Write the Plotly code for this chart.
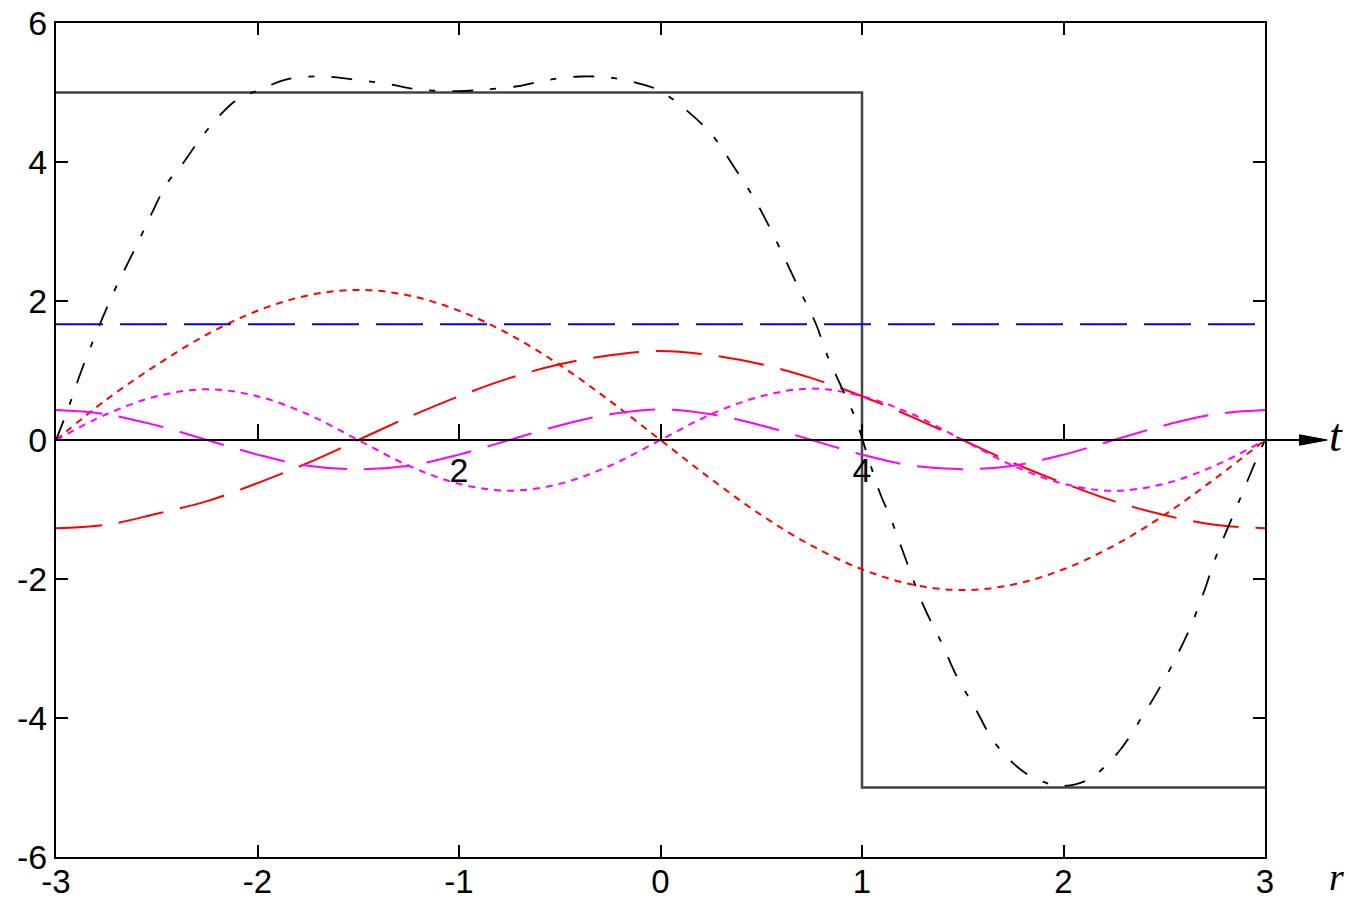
import plotly.graph_objects as go

# ---------------- data ----------------
x_grid = [-3.0, -2.75, -2.5, -2.25, -2.0, -1.75, -1.5, -1.25, -1.0, -0.75, -0.5, -0.25,
          0.0, 0.25, 0.5, 0.75, 1.0, 1.25, 1.5, 1.75, 2.0, 2.25, 2.5, 2.75, 3.0]

# first harmonic, sine part (red, short dashes)
red_sin = [0.0, 0.58, 1.08, 1.52, 1.86, 2.08, 2.16, 2.08, 1.86, 1.52, 1.08, 0.56,
           0.0, -0.56, -1.08, -1.52, -1.86, -2.08, -2.16, -2.08, -1.86, -1.52, -1.08, -0.56, 0.0]
# first harmonic, cosine part (red, long dashes)
red_cos = [-1.27, -1.22, -1.06, -0.88, -0.62, -0.33, 0.0, 0.33, 0.63, 0.89, 1.09, 1.22,
           1.28, 1.22, 1.09, 0.89, 0.63, 0.33, 0.0, -0.33, -0.62, -0.88, -1.08, -1.22, -1.27]
# second harmonic, sine part (magenta, short dashes)
mag_sin = [0.0, 0.37, 0.63, 0.73, 0.63, 0.37, 0.0, -0.37, -0.63, -0.73, -0.63, -0.37,
           0.0, 0.37, 0.63, 0.74, 0.63, 0.37, 0.0, -0.37, -0.63, -0.73, -0.63, -0.37, 0.0]
# second harmonic, cosine part (magenta, long dashes)
mag_cos = [0.43, 0.37, 0.21, 0.0, -0.21, -0.37, -0.42, -0.37, -0.21, 0.0, 0.21, 0.37,
           0.44, 0.37, 0.21, 0.0, -0.21, -0.37, -0.42, -0.37, -0.21, 0.0, 0.21, 0.37, 0.43]

# mean value (blue dashed)
mean_x = [-3.0, 3.0]
mean_y = [1.667, 1.667]

# square wave
sq_x = [-3.0, 1.0, 1.0, 3.0]
sq_y = [5.0, 5.0, -5.0, -5.0]

# partial Fourier sum (black dash-dot)
sum_x = [-3.0, -2.94, -2.88, -2.80, -2.71, -2.60, -2.51, -2.45, -2.37, -2.29, -2.20, -2.10,
         -1.99, -1.84, -1.67, -1.53, -1.35, -1.19, -1.0, -0.88, -0.71, -0.56, -0.40, -0.24,
         -0.08, 0.0, 0.11, 0.25, 0.36, 0.46, 0.54, 0.62, 0.69, 0.77, 0.83, 0.90, 0.97, 1.03,
         1.09, 1.14, 1.20, 1.30, 1.40, 1.47, 1.56, 1.66, 1.80, 1.92, 1.99, 2.12, 2.27, 2.38,
         2.48, 2.56, 2.63, 2.70, 2.75, 2.88, 2.95, 3.0]
sum_y = [0.0, 0.45, 0.95, 1.54, 2.15, 2.80, 3.35, 3.69, 3.98, 4.31, 4.63, 4.90,
         5.04, 5.20, 5.23, 5.19, 5.12, 5.04, 5.02, 5.04, 5.09, 5.18, 5.23, 5.21,
         5.11, 5.02, 4.79, 4.41, 3.95, 3.50, 3.07, 2.59, 2.16, 1.68, 1.20, 0.75, 0.29, -0.25,
         -0.77, -1.11, -1.58, -2.35, -2.95, -3.40, -3.85, -4.36, -4.77, -4.94, -4.98, -4.89, -4.50, -4.03,
         -3.55, -3.12, -2.69, -2.16, -1.73, -0.82, -0.33, 0.0]

x_ticks = [-3, -2, -1, 0, 1, 2, 3]
x_tick_text = ["-3", "-2", "-1", "0", "1", "2", "3"]
y_ticks = [-6, -4, -2, 0, 2, 4, 6]
y_tick_text = ["-6", "-4", "-2", "0", "2", "4", "6"]
t_tick_pos = [-2, -1, 0, 1, 2]
t_tick_text = ["", "2", "", "4", ""]

# ---------------- figure ----------------
fig = go.Figure()

fig.add_trace(go.Scatter(x=sq_x, y=sq_y, mode="lines",
                         line=dict(color="#454545", width=2.5)))
fig.add_trace(go.Scatter(x=mean_x, y=mean_y, mode="lines", xaxis="x2",
                         line=dict(color="#0000ff", width=2, dash="47px,17px")))
fig.add_trace(go.Scatter(x=x_grid, y=red_sin, mode="lines", line_shape="spline",
                         line=dict(color="#ff0000", width=2, dash="7px,6px")))
fig.add_trace(go.Scatter(x=x_grid, y=red_cos, mode="lines", line_shape="spline",
                         line=dict(color="#ff0000", width=2, dash="46px,17px")))
fig.add_trace(go.Scatter(x=x_grid, y=mag_sin, mode="lines", line_shape="spline",
                         line=dict(color="#ff00ff", width=2, dash="7px,6px")))
fig.add_trace(go.Scatter(x=x_grid, y=mag_cos, mode="lines", line_shape="spline",
                         line=dict(color="#ff00ff", width=2, dash="46px,17px")))
fig.add_trace(go.Scatter(x=sum_x, y=sum_y, mode="lines", line_shape="spline",
                         line=dict(color="#000000", width=1.8, dash="21px,17px,6px,17px")))

font_main = dict(family="Liberation Sans, Arial, sans-serif", size=34, color="#000000")
font_x = dict(family="Liberation Sans, Arial, sans-serif", size=33, color="#000000")

# the body margin is removed in the page (see post_script), so the figure fills the window
fig.update_layout(
    width=1349, height=902,
    margin=dict(l=56, r=84, t=23, b=45, autoexpand=False),
    paper_bgcolor="white", plot_bgcolor="white",
    showlegend=False,
    xaxis=dict(range=[-3, 3], tickvals=x_ticks, ticktext=x_tick_text, ticks="inside",
               ticklen=12, tickwidth=2, tickcolor="black", showline=True, linewidth=2,
               linecolor="black", mirror="ticks", showgrid=False, zeroline=False,
               tickfont=font_x, automargin=False, ticklabelstandoff=-6,
               ticklabeloverflow="allow"),
    yaxis=dict(range=[-6, 6], tickvals=y_ticks, ticktext=y_tick_text, ticks="inside",
               ticklen=12, tickwidth=2, tickcolor="black", showline=True, linewidth=2,
               linecolor="black", mirror="ticks", showgrid=False, zeroline=False,
               tickfont=font_main, automargin=False, ticklabeloverflow="allow"),
    xaxis2=dict(range=[-3, 3], overlaying="x", anchor="free", position=0.5, side="bottom",
                tickvals=t_tick_pos, ticktext=t_tick_text, ticks="inside", ticklen=15,
                tickwidth=2, tickcolor="black", showline=True, linewidth=2, linecolor="black",
                showgrid=False, zeroline=False, tickfont=font_main, automargin=False,
                ticklabeloverflow="allow"),
)

# extension of the t axis beyond the frame, with an arrow head
fig.add_shape(type="line", xref="paper", yref="y", x0=1.0, x1=1.03, y0=0, y1=0,
              line=dict(color="black", width=2))
fig.add_shape(type="path", xref="paper", yref="y",
              path="M 1.0285,0.075 L 1.0515,0 L 1.0285,-0.075 Z",
              fillcolor="black", line=dict(color="black", width=1))

fig.add_annotation(xref="paper", yref="y", x=1.0525, y=0.07, xanchor="left", yanchor="middle",
                   text="<i>t</i>", showarrow=False, borderpad=0,
                   font=dict(family="Liberation Serif, Times New Roman, serif", size=46, color="black"))
fig.add_annotation(xref="paper", yref="paper", x=1.0525, y=-0.024, xanchor="left", yanchor="middle",
                   text="<i>r</i>", showarrow=False, borderpad=0,
                   font=dict(family="Liberation Serif, Times New Roman, serif", size=38, color="black"))

fig.write_html("out.html", config={"displayModeBar": False},
               post_script="document.body.style.margin='0';document.body.style.overflow='hidden';")
